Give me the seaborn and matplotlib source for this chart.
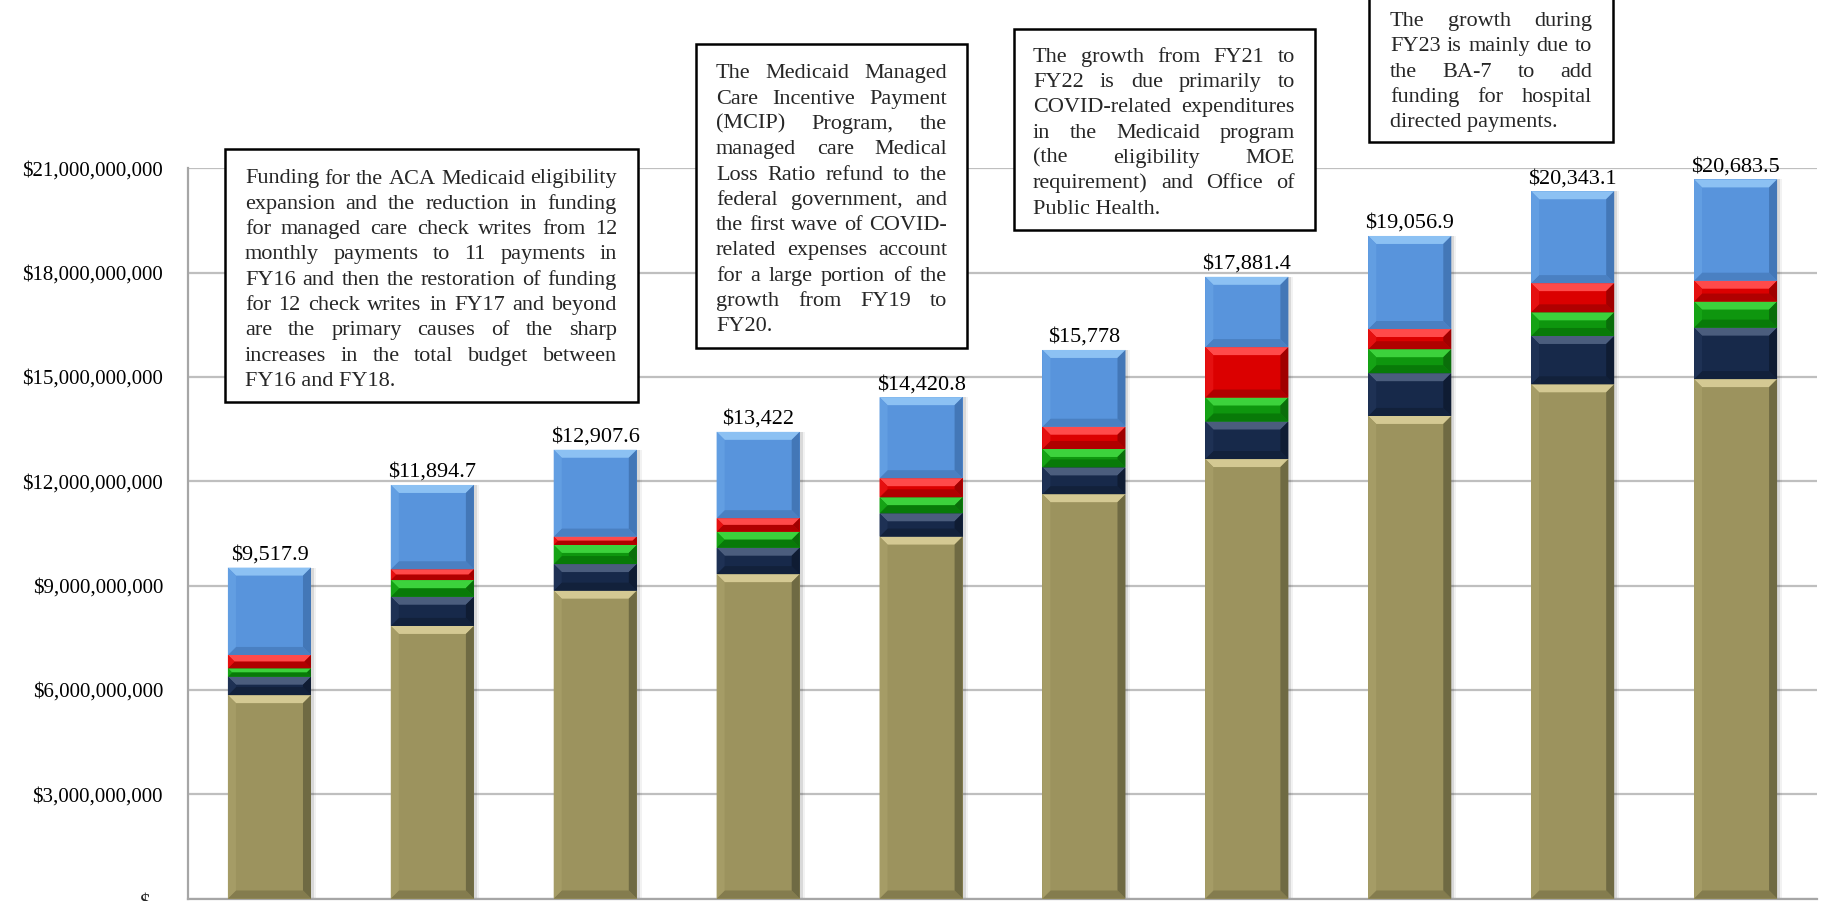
import numpy as np
import matplotlib
matplotlib.use("Agg")
import matplotlib.pyplot as plt
import seaborn as sns
from matplotlib.patches import Rectangle, Polygon
from matplotlib import transforms

# ---------------------------------------------------------------- data
fiscal_years = ["FY16", "FY17", "FY18", "FY19", "FY20",
                "FY21", "FY22", "FY23", "FY24", "FY25"]

# funding by layer, $ millions (bottom layer first)
layer_olive = [5850, 7840, 8855, 9330, 10410, 11630, 12640, 13880, 14790, 14940]
layer_navy = [530, 840, 765, 760, 670, 770, 1080, 1230, 1390, 1480]
layer_green = [240, 480, 550, 460, 460, 530, 690, 690, 680, 750]
layer_red = [385, 310, 240, 390, 550, 640, 1450, 580, 840, 600]
layer_blue = [2512.9, 2424.7, 2497.6, 2482.0, 2330.8,
              2208.0, 2021.4, 2676.9, 2643.1, 2913.5]

y_ticks = [0, 3e9, 6e9, 9e9, 12e9, 15e9, 18e9, 21e9]

note_1 = ["Funding for the ACA Medicaid eligibility",
          "expansion and the reduction in funding",
          "for managed care check writes from 12",
          "monthly payments to 11 payments in",
          "FY16 and then the restoration of funding",
          "for 12 check writes in FY17 and beyond",
          "are the primary causes of the sharp",
          "increases in the total budget between",
          "FY16 and FY18."]
note_2 = ["The Medicaid Managed",
          "Care Incentive Payment",
          "(MCIP) Program, the",
          "managed care Medical",
          "Loss Ratio refund to the",
          "federal government, and",
          "the first wave of COVID-",
          "related expenses account",
          "for a large portion of the",
          "growth from FY19 to",
          "FY20."]
note_3 = ["The growth from FY21 to",
          "FY22 is due primarily to",
          "COVID-related expenditures",
          "in the Medicaid program",
          "(the eligibility MOE",
          "requirement) and Office of",
          "Public Health."]
note_4 = ["The growth during",
          "FY23 is mainly due to",
          "the BA-7 to add",
          "funding for hospital",
          "directed payments."]

# ---------------------------------------------------------------- style
sns.set_style("white")
plt.rcParams["font.family"] = ["Liberation Serif", "DejaVu Serif"]

W, H = 1825, 901
fig = plt.figure(figsize=(W / 100, H / 100), dpi=100)
fig.patch.set_facecolor("white")

AX_L, AX_R, AX_TOP, AX_BOT = 188, 1817, 168.4, 898.5
ax = fig.add_axes([AX_L / W, (H - AX_BOT) / H, (AX_R - AX_L) / W, (AX_BOT - AX_TOP) / H])

layers = [layer_olive, layer_navy, layer_green, layer_red, layer_blue]
face = ["#9C935E", "#17294A", "#0E960E", "#DB0000", "#5894DC"]
bevel = [  # top, left, right, bottom
    ("#D4C993", "#A59C66", "#6F6A43", "#847C4E"),
    ("#4B5D7D", "#1E3154", "#0F1C33", "#12213B"),
    ("#3CD23C", "#15A315", "#0A6E0A", "#087A08"),
    ("#FF4A4A", "#E51010", "#A00000", "#B00000"),
    ("#8CC1F3", "#629EE2", "#4377B7", "#4A80C2"),
]

vals = np.array(layers, dtype=float) * 1e6
cum = np.cumsum(vals, axis=0)
totals = cum[-1]

# stacked bars: draw cumulative heights from the top layer down
for i in reversed(range(len(layers))):
    sns.barplot(x=fiscal_years, y=cum[i], color=face[i], width=0.51,
                saturation=1, linewidth=0, errorbar=None, ax=ax, zorder=3)

bars = ax.patches[:len(fiscal_years)]
ax.set_xlim(-0.5, len(fiscal_years) - 0.5)
ax.set_ylim(0, 21e9)

# pixel scale of the data axes
p0 = ax.transData.transform((0, 0))
p1 = ax.transData.transform((1, 1e9))
sx, sy = p1[0] - p0[0], p1[1] - p0[1]

# soft drop shadow behind each stack
for b, tot in zip(bars, totals):
    for off, a in ((3, 0.10), (5, 0.05)):
        ax.add_patch(Rectangle((b.get_x() + off / sx, -off / sy), b.get_width(), tot,
                               facecolor="black", alpha=a, lw=0, zorder=2))

# bevelled faces on each segment
BEV = 8.0
for j, b in enumerate(bars):
    x0 = b.get_x()
    x1 = x0 + b.get_width()
    for i in range(len(layers)):
        y0 = cum[i - 1][j] if i > 0 else 0.0
        y1 = cum[i][j]
        h_px = (y1 - y0) * sy / 1e9
        bp = min(BEV, h_px / 2.0)
        dx, dy = bp / sx, bp / sy * 1e9
        top, left, right, bottom = bevel[i]
        polys = [
            ([(x0, y1), (x1, y1), (x1 - dx, y1 - dy), (x0 + dx, y1 - dy)], top),
            ([(x0, y0), (x1, y0), (x1 - dx, y0 + dy), (x0 + dx, y0 + dy)], bottom),
            ([(x0, y0), (x0 + dx, y0 + dy), (x0 + dx, y1 - dy), (x0, y1)], left),
            ([(x1, y0), (x1 - dx, y0 + dy), (x1 - dx, y1 - dy), (x1, y1)], right),
        ]
        for pts, col in polys:
            ax.add_patch(Polygon(pts, closed=True, facecolor=col, lw=0, zorder=4))

# total labels above each stack
for b, tot in zip(bars, totals):
    s = f"${tot / 1e6:,.1f}"
    if s.endswith(".0"):
        s = s[:-2]
    ax.annotate(s, (b.get_x() + b.get_width() / 2, tot), xytext=(0, 5.8),
                textcoords="offset points", ha="center", va="baseline",
                fontsize=16, color="black", zorder=6)

# axes styling
ax.set_axisbelow(True)
ax.yaxis.grid(True, color="#BFBFBF", linewidth=1.6)
ax.xaxis.grid(False)
for side in ("top", "right"):
    ax.spines[side].set_visible(False)
for side in ("left", "bottom"):
    ax.spines[side].set_color("#A6A6A6")
    ax.spines[side].set_linewidth(1.6)

ax.set_yticks(y_ticks, ["" if t == 0 else f"${t:,.0f}" for t in y_ticks])
ax.tick_params(axis="y", direction="out", length=5, width=1.2, color="#A6A6A6",
               labelsize=15, pad=13, labelcolor="black")
ax.tick_params(axis="x", bottom=False, labelbottom=False)
ax.set_xlabel("")
ax.set_ylabel("")

zero_tf = transforms.blended_transform_factory(ax.transAxes, ax.transData) + \
    transforms.ScaledTranslation(0, -6 / 100, fig.dpi_scale_trans)
ax.text((163 - AX_L) / (AX_R - AX_L), 0, "$ -", ha="right", va="center",
        fontsize=15, transform=zero_tf, clip_on=False)

# ---------------------------------------------------------------- notes
renderer = fig.canvas.get_renderer()
FS = 16
STEP = 25.3


def note(lines, box, text_l, text_r, base0):
    bx0, by0, bx1, by1 = box
    fig.add_artist(Rectangle((bx0 / W, 1 - by1 / H), (bx1 - bx0) / W, (by1 - by0) / H,
                             transform=fig.transFigure, facecolor="white",
                             edgecolor="black", linewidth=1.8, zorder=5))
    for k, line in enumerate(lines):
        y = 1 - (base0 + k * STEP) / H
        words = line.split()
        if k == len(lines) - 1 or len(words) == 1:
            fig.text(text_l / W, y, line, ha="left", va="baseline",
                     fontsize=FS, zorder=6)
            continue
        arts = [fig.text(0, y, w, ha="left", va="baseline", fontsize=FS, zorder=6)
                for w in words]
        widths = [a.get_window_extent(renderer).width for a in arts]
        gap = (text_r - text_l - sum(widths)) / (len(words) - 1)
        x = text_l
        for a, wd in zip(arts, widths):
            a.set_x(x / W)
            x += wd + gap


note(note_1, (225, 149, 638, 402), 245, 617, 183.5)
note(note_2, (696, 44, 967, 348), 716, 947, 78.3)
note(note_3, (1014, 29, 1315, 230), 1033, 1295, 61.7)
note(note_4, (1369, -40, 1613, 141.7), 1390, 1592, 26.0)

fig.savefig("out.png", dpi=100, facecolor="white")
